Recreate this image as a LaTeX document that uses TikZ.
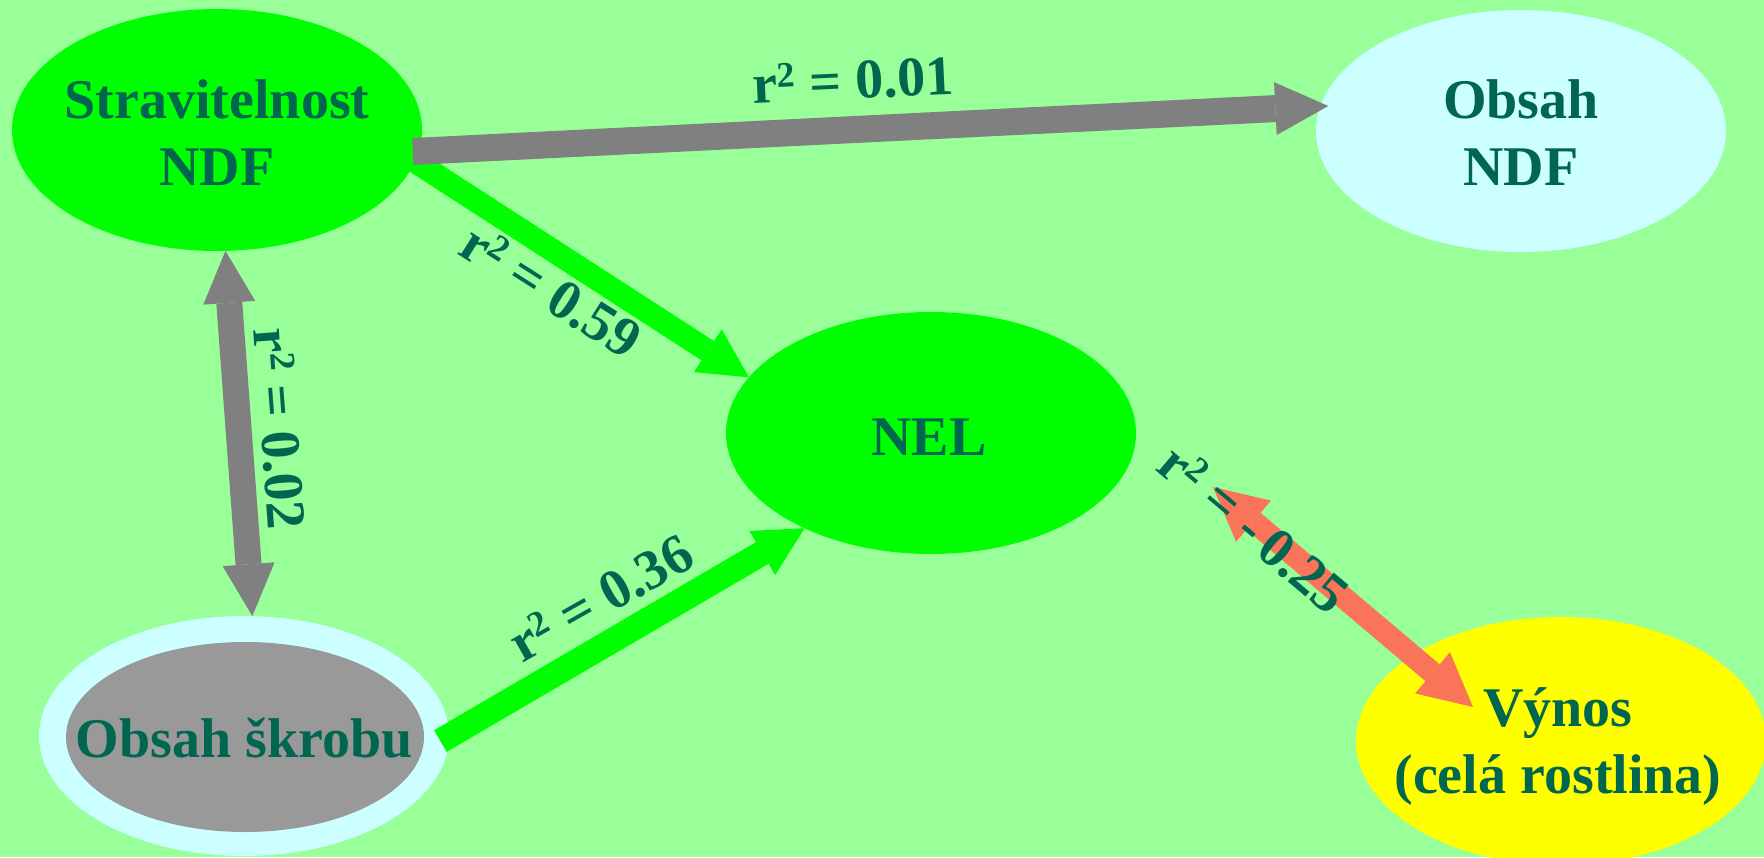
\documentclass[tikz,border=0pt]{standalone}
\usepackage{fontspec}
\setmainfont{Liberation Serif}
\usetikzlibrary{arrows.meta,shapes.geometric}
\definecolor{bgc}{HTML}{99FF99}
\definecolor{egreen}{HTML}{00FF00}
\definecolor{ecyan}{HTML}{CCFFFF}
\definecolor{egray}{HTML}{999999}
\definecolor{eyellow}{HTML}{FFFF00}
\definecolor{agray}{HTML}{808080}
\definecolor{acoral}{HTML}{FA745A}
\definecolor{tc}{HTML}{006650}
\newcommand{\rsq}{r\raisebox{15pt}{\fontsize{36}{36}\selectfont 2}}
\begin{document}
\begin{tikzpicture}[x=1pt,y=-1pt,
  ell/.style={ellipse, inner sep=0pt, outer sep=0pt, draw=none},
  big/.style={ell, minimum width=410pt, minimum height=242pt},
  txt/.style={font=\fontsize{56}{67}\selectfont\bfseries, text=tc, align=center, inner sep=0pt, text depth=0pt},
  lab/.style={font=\fontsize{56}{67}\selectfont\bfseries, text=tc, inner sep=0pt, anchor=base},
  grayarrow/.style={draw=agray, line width=27pt, -{Triangle[width=53pt,length=53pt,line width=0pt]}},
  graydouble/.style={draw=agray, line width=26pt, {Triangle[width=52pt,length=52pt,line width=0pt]}-{Triangle[width=52pt,length=52pt,line width=0pt]}},
  greenarrow/.style={draw=egreen, line width=23pt, -{Triangle[width=51pt,length=49pt,line width=0pt]}},
  coralarrow/.style={draw=acoral, line width=22pt, {Triangle[width=54pt,length=53pt,line width=0pt]}-{Triangle[width=54pt,length=53pt,line width=0pt]}}
]
\fill[bgc] (0,0) rectangle (1764,857);
\useasboundingbox (0,0) rectangle (1764,857);

% ellipses
\node[big, fill=egreen] (S) at (217,130) {};
\node[big, fill=ecyan] (O) at (1521,131) {};
\node[big, fill=egreen] (N) at (931,433) {};
\node[ell, fill=ecyan, minimum width=410pt, minimum height=240pt] (K) at (244,736) {};
\node[ell, fill=egray, minimum width=358pt, minimum height=190pt] (Kin) at (245,737) {};
\node[ell, fill=eyellow, minimum width=410pt, minimum height=248pt] (V) at (1561,741) {};

% texts
\node[txt] (St) at (217,132.5) {Stravitelnost\\NDF};
\node[txt] (Ot) at (1521,132.5) {Obsah\\NDF};
\node[txt] (Nt) at (929,437.5) {NEL};
\node[txt] (Kt) at (244,738) {Obsah škrobu};
\node[txt] (Vt) at (1558,741) {Výnos\\(celá rostlina)};

% connectors
\draw[greenarrow] (S.-9.9) -- (N.163.3);
\draw[grayarrow, shorten <=-6pt, shorten >=-8pt] (S.-6.7) -- (O.173.5);
\draw[graydouble] (S.-86.7) -- (K.86.7);
\draw[greenarrow, line width=25pt, shorten <=-10pt] (K.0) -- (N.217.5);
\coordinate (c1) at (1213,487);
\coordinate (c2) at (1473,707);
\draw[coralarrow] (c1) -- (c2);

% labels
\node[lab, rotate=2.75] (L1) at (854,99) {\rsq{} = 0.01};
\node[lab, rotate=-32.5] (L2) at (541,307) {\rsq{} = 0.59};
\node[lab, rotate=29.5] (L3) at (610,614) {\rsq{} = 0.36};
\node[lab, rotate=-85.7] (L4) at (261,430) {\rsq{} = 0.02};
\node[lab, rotate=-40.2] (L5) at (1242,543) {\rsq{} = -\,0.25};
\end{tikzpicture}
\end{document}
